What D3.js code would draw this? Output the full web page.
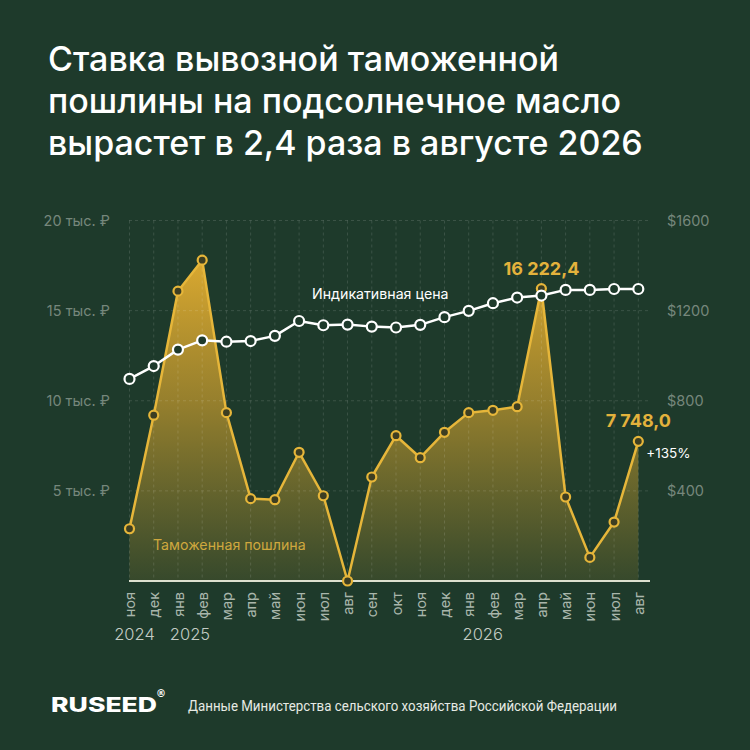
<!DOCTYPE html>
<html><head><meta charset="utf-8">
<script src="https://cdn.jsdelivr.net/npm/d3@7/dist/d3.min.js"></script>
<style>
html,body{margin:0;padding:0;background:#1e3a2b;}
svg{display:block;}
</style></head>
<body>
<svg id="c" width="750" height="750"></svg>
<script>
// ---- data ----
const months = ["ноя","дек","янв","фев","мар","апр","май","июн","июл","авг","сен","окт","ноя","дек","янв","фев","мар","апр","май","июн","июл","авг"];
const years = [{i:0, label:"2024"},{i:2, label:"2025"},{i:14, label:"2026"}];
const duty = [2900,9200,16080,17800,9340,4570,4510,7140,4730,0,5770,8060,6840,8250,9340,9470,9670,16222.4,4660,1310,3270,7748.0];
const price = [897,954,1027,1068,1062,1065,1088,1154,1135,1138,1129,1125,1137,1171,1199,1233,1258,1267,1292,1292,1296,1296];
const leftTicks = [5000,10000,15000,20000];
const rightTicks = [400,800,1200,1600];
const titleLines = ["Ставка вывозной таможенной","пошлины на подсолнечное масло","вырастет в 2,4 раза в августе 2026"];

const svg = d3.select("#c");
const W=750,H=750;
svg.append("rect").attr("width",W).attr("height",H).attr("fill","#1e3a2b");

const x = d3.scaleLinear().domain([0, months.length-1]).range([129.5, 638.3]);
const yL = d3.scaleLinear().domain([0,20000]).range([581,220.5]);
const yR = d3.scaleLinear().domain([0,1600]).range([581,220.5]);
const gx0 = 129, gx1 = 650;

// title
const t = svg.append("g");
titleLines.forEach((s,i)=>{
  t.append("text").attr("x",48).attr("y",71+i*42).text(s)
   .attr("fill","#ffffff").attr("font-family","Inter").attr("font-weight",500).attr("font-size",34);
});

// gradient
const defs = svg.append("defs");
const grad = defs.append("linearGradient").attr("id","g").attr("gradientUnits","userSpaceOnUse")
  .attr("x1",0).attr("x2",0).attr("y1",yL(18000)).attr("y2",yL(0));
grad.append("stop").attr("offset","0%").attr("stop-color","#dcaa30").attr("stop-opacity",1);
grad.append("stop").attr("offset","45%").attr("stop-color","#c49a2e").attr("stop-opacity",0.72);
grad.append("stop").attr("offset","100%").attr("stop-color","#b8972f").attr("stop-opacity",0.16);

// area
const area = d3.area().x((d,i)=>x(i)).y0(yL(0)).y1(d=>yL(d));
svg.append("path").datum(duty).attr("d",area).attr("fill","url(#g)");

// grid
const grid = svg.append("g").attr("stroke","rgba(255,255,255,0.13)").attr("stroke-width",1).attr("stroke-dasharray","3,3");
grid.selectAll("line.h").data(leftTicks).join("line")
  .attr("x1",gx0).attr("x2",gx1).attr("y1",d=>yL(d)).attr("y2",d=>yL(d));
grid.selectAll("line.v").data(months).join("line")
  .attr("x1",(d,i)=>x(i)).attr("x2",(d,i)=>x(i)).attr("y1",yL(20000)).attr("y2",yL(0));

// axes
const axL = svg.append("g").attr("transform",`translate(${gx0},0)`)
  .call(d3.axisLeft(yL).tickValues(leftTicks).tickSize(0).tickPadding(19).tickFormat(d=>(d/1000)+" тыс. ₽"));
axL.select(".domain").remove();
axL.selectAll("text").attr("fill","#76877c").attr("font-family","Inter").attr("font-size",14.5);

const axR = svg.append("g").attr("transform",`translate(${gx1},0)`)
  .call(d3.axisRight(yR).tickValues(rightTicks).tickSize(0).tickPadding(17).tickFormat(d=>"$"+d));
axR.select(".domain").remove();
axR.selectAll("text").attr("fill","#76877c").attr("font-family","Inter").attr("font-size",14.5);

const axB = svg.append("g").attr("transform",`translate(0,${yL(0)})`)
  .call(d3.axisBottom(x).tickValues(d3.range(months.length)).tickSize(0).tickFormat(i=>months[i]));
axB.select(".domain").remove();
axB.selectAll("text").attr("fill","#a9b6ab").attr("font-family","Inter").attr("font-size",14.5)
  .attr("transform","rotate(-90)").attr("text-anchor","end").attr("x",-11).attr("y",0).attr("dy","0.35em");
svg.append("line").attr("x1",gx0).attr("x2",gx1).attr("y1",yL(0)).attr("y2",yL(0))
  .attr("stroke","#dde0cf").attr("stroke-width",2);

svg.selectAll("text.yr").data(years).join("text").attr("class","yr")
  .attr("x",d=>x(d.i)+ (d.i===0?5:d.i===2?12:14)).attr("y",640).attr("text-anchor","middle")
  .attr("fill","#c4ccc4").attr("font-family","Inter").attr("font-weight",300).attr("font-size",16.5).text(d=>d.label);

// duty line
const lineL = d3.line().x((d,i)=>x(i)).y(d=>yL(d));
svg.append("path").datum(duty).attr("d",lineL).attr("fill","none").attr("stroke","#e6b63a").attr("stroke-width",2.5).attr("stroke-linejoin","round");

// price line
const lineR = d3.line().x((d,i)=>x(i)).y(d=>yR(d));
svg.append("path").datum(price).attr("d",lineR).attr("fill","none").attr("stroke","#ffffff").attr("stroke-width",2.5).attr("stroke-linejoin","round");

svg.selectAll("circle.d").data(duty).join("circle").attr("class","d")
  .attr("cx",(d,i)=>x(i)).attr("cy",d=>yL(d)).attr("r",4.5)
  .attr("fill","#3d3e22").attr("stroke","#e6b63a").attr("stroke-width",2.2);
svg.selectAll("circle.p").data(price).join("circle").attr("class","p")
  .attr("cx",(d,i)=>x(i)).attr("cy",d=>yR(d)).attr("r",5)
  .attr("fill","#1e3a2b").attr("stroke","#ffffff").attr("stroke-width",2.2);

// labels
const fmt = v => d3.format(",.1f")(v).replace(/,/g," ").replace(".",",");
svg.append("text").attr("x",x(17)).attr("y",yL(duty[17])-14).attr("text-anchor","middle")
  .attr("fill","#e3b23c").attr("font-family","Inter").attr("font-weight",700).attr("font-size",18).text(fmt(duty[17]));
svg.append("text").attr("x",x(21)).attr("y",yL(duty[21])-14).attr("text-anchor","middle")
  .attr("fill","#e3b23c").attr("font-family","Inter").attr("font-weight",700).attr("font-size",18).text(fmt(duty[21]));
svg.append("text").attr("x",x(21)+8).attr("y",yL(duty[21])+17)
  .attr("fill","#ffffff").attr("font-family","Inter").attr("font-size",13.5).text("+135%");
svg.append("text").attr("x",312).attr("y",299)
  .attr("fill","#ffffff").attr("font-family","Inter").attr("font-size",14.2).text("Индикативная цена");
svg.append("text").attr("x",153).attr("y",550)
  .attr("fill","#cfa83e").attr("font-family","Inter").attr("font-size",14.2).text("Таможенная пошлина");

// footer
svg.append("text").attr("x",51).attr("y",712).attr("textLength",106).attr("lengthAdjust","spacingAndGlyphs")
  .attr("fill","#ffffff").attr("font-family","Inter").attr("font-weight",800).attr("font-size",20).text("RUSEED");
svg.append("text").attr("x",161).attr("y",697).attr("text-anchor","middle")
  .attr("fill","#ffffff").attr("font-family","DejaVu Sans").attr("font-weight",700).attr("font-size",10).text("®");
svg.append("text").attr("x",188).attr("y",711).attr("textLength",429).attr("lengthAdjust","spacingAndGlyphs")
  .attr("fill","#e6eae4").attr("font-family","Roboto").attr("font-weight",400).attr("font-size",14).text("Данные Министерства сельского хозяйства Российской Федерации");
</script>
</body></html>
